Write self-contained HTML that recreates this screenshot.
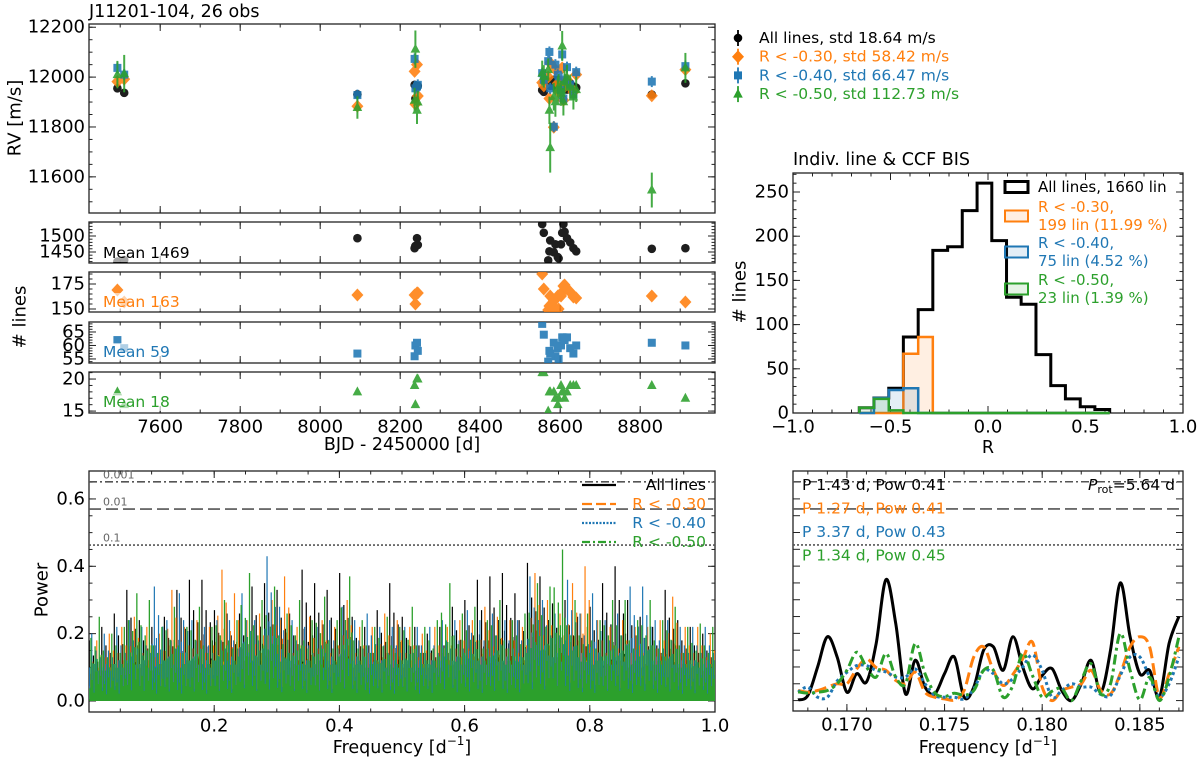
<!DOCTYPE html>
<html><head><meta charset="utf-8"><style>
html,body{margin:0;padding:0;background:#fff;}
svg{display:block;font-family:"DejaVu Sans","Liberation Sans",sans-serif;}
</style></head><body>
<svg id="fig" width="1200" height="762" viewBox="0 0 1200 762" xmlns="http://www.w3.org/2000/svg"></svg>
<script>
// ---------------- DATA ----------------
const epochs = [7493,7510,8093,8236,8238,8242,8244,8555,8559,8570,8573,8575,8584,8588,8594,8596,8602,8605,8608,8611,8617,8625,8633,8640,8829,8913];
const rvAll = [11955,11937,11931,11969,11914,11959,11965,11948,11941,11982,11975,11965,11989,11959,11989,11982,11965,11959,11970,11960,11950,11975,11962,11958,11930,11975];
const rvR30 = [11982,11992,11883,12023,11891,12050,11924,11978,11965,12000,11914,12057,11799,12030,11975,11941,11982,12037,11907,11962,11990,11960,11940,12010,11925,12030];
const rvR40 = [12037,12010,11928,12073,11955,11962,11969,12016,11989,12064,12101,11955,11801,12050,12010,12003,11948,12091,11914,11990,12040,11970,11930,12020,11982,12044];
const rvR50 = [12010,12014,11878,11907,12112,11867,11900,12016,12003,12030,11867,11717,11921,11901,11948,11962,11935,12125,11901,11980,12000,11960,11920,11950,11547,12037];
const errAll = [8,8,8,8,8,8,8,8,8,8,8,8,8,8,8,8,8,8,8,8,8,8,8,8,8,8];
const errR30 = [15,15,15,15,15,15,15,15,15,15,15,15,15,15,15,15,15,15,15,15,15,15,15,15,15,15];
const errR40 = [22,22,22,22,22,22,22,22,22,22,22,22,22,22,22,22,22,22,22,22,22,22,22,22,22,22];
const errR50 = [55,75,45,50,75,55,45,50,45,45,55,100,55,60,55,50,50,60,55,50,50,50,50,50,70,60];
const nAll = [1420,1425,1493,1462,1469,1493,1472,1537,1510,1424,1452,1486,1449,1474,1434,1430,1474,1510,1537,1513,1493,1480,1462,1452,1460,1462];
const nR30 = [169,157,164,164,155,166,166,185,170,149,153,163,158,150,163,150,163,167,173,174,170,167,162,161,163,157];
const nR40 = [62,59,57,56,60,61,58,68,64,54,58,57,61,56,59,55,60,63,63,62,63,59,57,60,61,60];
const nR50 = [18,16,18,19,16,20,20,21,21,15,18,18,18,17,16,17,19,18,18,17,18,19,19,19,19,17];
const meanLabels = ["Mean 1469","Mean 163","Mean 59","Mean 18"];
const legendRV = ["All lines, std 18.64 m/s","R < -0.30, std 58.42 m/s","R < -0.40, std 66.47 m/s","R < -0.50, std 112.73 m/s"];

const binEdges = [-0.660,-0.585,-0.509,-0.434,-0.358,-0.283,-0.207,-0.132,-0.056,0.0195,0.095,0.170,0.246,0.322,0.397,0.473,0.548,0.624];
const histAll = [6,17,28,86,117,184,188,229,260,195,131,123,66,31,16,7,4];
const histR30 = [0,0,0,67,86,0,0,0,0,0,0,0,0,0,0,0,0];
const histR40 = [0,17,26,28,0,0,0,0,0,0,0,0,0,0,0,0,0];
const histR50 = [6,16,3,0,0,0,0,0,0,0,0,0,0,0,0,0,0];

// left periodogram: peak power per 0.02 d^-1 bin
const pgBinWidth = 0.02;
const pgAll = [0.18,0.22,0.26,0.33,0.24,0.22,0.25,0.33,0.36,0.36,0.27,0.26,0.26,0.34,0.35,0.33,0.26,0.39,0.35,0.33,0.38,0.25,0.22,0.27,0.35,0.25,0.22,0.20,0.22,0.28,0.30,0.36,0.37,0.38,0.32,0.41,0.37,0.29,0.30,0.25,0.28,0.35,0.40,0.30,0.25,0.22,0.33,0.24,0.22,0.20];
const pgR30 = [0.18,0.20,0.22,0.25,0.22,0.20,0.33,0.22,0.24,0.22,0.39,0.32,0.24,0.26,0.30,0.37,0.22,0.25,0.24,0.22,0.30,0.22,0.22,0.26,0.24,0.22,0.20,0.22,0.22,0.24,0.24,0.28,0.25,0.24,0.22,0.38,0.30,0.26,0.35,0.40,0.24,0.22,0.24,0.22,0.22,0.24,0.31,0.22,0.22,0.20];
const pgR40 = [0.20,0.20,0.22,0.24,0.22,0.34,0.24,0.32,0.24,0.22,0.24,0.24,0.32,0.24,0.43,0.28,0.24,0.22,0.22,0.24,0.28,0.24,0.26,0.22,0.22,0.22,0.22,0.22,0.24,0.24,0.27,0.24,0.26,0.24,0.24,0.37,0.30,0.26,0.36,0.26,0.32,0.24,0.26,0.34,0.34,0.24,0.24,0.22,0.22,0.22];
const pgR50 = [0.25,0.20,0.22,0.32,0.30,0.22,0.28,0.22,0.28,0.22,0.30,0.24,0.38,0.30,0.34,0.26,0.30,0.24,0.31,0.24,0.37,0.24,0.22,0.25,0.22,0.28,0.22,0.24,0.35,0.26,0.28,0.24,0.30,0.24,0.26,0.35,0.34,0.45,0.30,0.26,0.24,0.30,0.30,0.24,0.30,0.24,0.28,0.22,0.23,0.22];
const fapLevels = [0.651,0.570,0.463];
const fapLabels = ["0.001","0.01","0.1"];

// right periodogram zoom
const zoomFreq = [];
const zoomStart = 0.1675, zoomStep = 0.0005;
const zAll = [0.002,0.015,0.10,0.19,0.13,0.025,0.08,0.055,0.17,0.36,0.23,0.02,0.12,0.04,0.02,0.08,0.13,0.01,0.04,0.15,0.16,0.09,0.19,0.10,0.035,0.075,0.095,0.03,0.0,0.05,0.12,0.025,0.15,0.35,0.19,0.08,0.09,0.01,0.17,0.25];
const zR30 = [0.03,0.025,0.03,0.04,0.05,0.05,0.094,0.124,0.098,0.09,0.06,0.05,0.084,0.025,0.01,0.005,0.002,0.03,0.13,0.16,0.09,0.045,0.078,0.124,0.174,0.04,0.0,0.03,0.04,0.05,0.09,0.03,0.02,0.08,0.16,0.19,0.16,0.01,0.08,0.16];
const zR40 = [0.025,0.04,0.01,0.01,0.058,0.084,0.104,0.104,0.09,0.085,0.07,0.07,0.094,0.05,0.015,0.01,0.01,0.005,0.035,0.09,0.08,0.05,0.065,0.1,0.136,0.09,0.01,0.03,0.05,0.04,0.04,0.018,0.015,0.075,0.13,0.13,0.07,0.012,0.05,0.13];
const zR50 = [0.026,0.022,0.025,0.03,0.05,0.09,0.144,0.1,0.07,0.14,0.07,0.05,0.17,0.08,0.023,0.012,0.022,0.016,0.03,0.09,0.09,0.01,0.045,0.14,0.075,0.01,0.028,0.036,0.0,0.06,0.11,0.02,0.05,0.2,0.09,0.002,0.07,0.0,0.07,0.19];
for (let i = 0; i < zAll.length; i++) zoomFreq.push(zoomStart + i * zoomStep);
const peakLabels = ["P 1.43 d, Pow 0.41","P 1.27 d, Pow 0.41","P 3.37 d, Pow 0.43","P 1.34 d, Pow 0.45"];

// ---------------- DRAWING ----------------
const NS = "http://www.w3.org/2000/svg";
const svg = document.getElementById("fig");
const C = ["#000000","#ff7f0e","#1f77b4","#2ca02c"];
function mk(tag, attrs, parent) {
  const e = document.createElementNS(NS, tag);
  for (const k in attrs) e.setAttribute(k, attrs[k]);
  (parent || svg).appendChild(e);
  return e;
}
function txt(s, x, y, size, fill, anchor, parent) {
  const t = mk("text", {x: x, y: y, "font-size": size, fill: fill || "#000", "text-anchor": anchor || "start", "dominant-baseline": "central"}, parent);
  t.textContent = s;
  return t;
}
function lin(d0, d1, r0, r1) { return v => r0 + (v - d0) * (r1 - r0) / (d1 - d0); }
function range(a, b, s) { const o = []; for (let v = a; v <= b + s * 1e-6; v += s) o.push(+v.toFixed(6)); return o; }

function axes(name, x0, x1, y0, y1, xd, yd, opt) {
  const g = mk("g", {});
  
  
  const sx = lin(xd[0], xd[1], x0, x1), sy = lin(yd[0], yd[1], y1, y0);
  const tk = mk("g", {stroke: "#222", "stroke-width": 1}, g);
  
  
  function tick(x, y, dx, dy) { mk("line", {x1: x, y1: y, x2: x + dx, y2: y + dy}, tk); }
  (opt.xmin || []).forEach(v => { const x = sx(v); if (x < x0 || x > x1) return; tick(x, y1, 0, -3.5); tick(x, y0, 0, 3.5); });
  (opt.xmaj || []).forEach(v => { const x = sx(v); if (x < x0 - .5 || x > x1 + .5) return; tick(x, y1, 0, -7); tick(x, y0, 0, 7); });
  (opt.ymin || []).forEach(v => { const y = sy(v); if (y < y0 || y > y1) return; tick(x0, y, 3.5, 0); tick(x1, y, -3.5, 0); });
  (opt.ymaj || []).forEach(v => { const y = sy(v); if (y < y0 - .5 || y > y1 + .5) return; tick(x0, y, 7, 0); tick(x1, y, -7, 0); });
  if (opt.xlab) opt.xlab.forEach(v => { const t = txt(opt.xfmt(v), sx(v), y1 + 14, 18, "#000", "middle", g);   });
  if (opt.ylab) opt.ylab.forEach(v => { const t = txt(opt.yfmt(v), x0 - 4, sy(v), 18, "#000", "end", g);   });
  const fr = mk("rect", {x: x0, y: y0, width: x1 - x0, height: y1 - y0, fill: "none", stroke: "#222", "stroke-width": 1.3}, g);
  
  
  return {sx, sy, g, x0, x1, y0, y1};
}
function clip(id, a) {
  const d = mk("defs", {});
  const cp = mk("clipPath", {id: id}, d);
  mk("rect", {x: a.x0, y: a.y0, width: a.x1 - a.x0, height: a.y1 - a.y0}, cp);
}
function marker(kind, x, y, col, parent) {
  let m;
  if (kind === 0) m = mk("circle", {cx: x, cy: y, r: 4.3, fill: col}, parent);
  else if (kind === 1) m = mk("polygon", {points: `${x},${y-6.5} ${x+6},${y} ${x},${y+6.5} ${x-6},${y}`, fill: col}, parent);
  else if (kind === 2) m = mk("rect", {x: x - 4, y: y - 4, width: 8, height: 8, fill: col}, parent);
  else m = mk("polygon", {points: `${x},${y-5.5} ${x+4.8},${y+3.5} ${x-4.8},${y+3.5}`, fill: col}, parent);
  return m;
}

// title
const ttl = txt("J11201-104, 26 obs", 89, 12, 17.5);



// ---- RV panel ----
const fmt0 = v => String(Math.round(v));
const rv = axes("rv-panel", 89, 715, 24, 213, [7422, 8987], [11455, 12213],
  {xmaj: range(7600, 8800, 200), xmin: range(7500, 8900, 100), ymaj: range(11600, 12200, 200), ymin: range(11500, 12200, 50),
   ylab: range(11600, 12200, 200), yfmt: fmt0});
clip("cRV", rv);
const rvSeries = [[rvAll, errAll], [rvR30, errR30], [rvR40, errR40], [rvR50, errR50]];
const rvNames = ["rv-all-lines", "rv-r-030", "rv-r-040", "rv-r-050"];
rvSeries.forEach((s, si) => {
  const g = mk("g", {"clip-path": "url(#cRV)", opacity: 0.88});
  
  
  epochs.forEach((d, i) => {
    const x = rv.sx(d), y = rv.sy(s[0][i]);
    const eb = mk("line", {x1: x, x2: x, y1: rv.sy(s[0][i] + s[1][i]), y2: rv.sy(s[0][i] - s[1][i]), stroke: C[si], "stroke-width": 2}, g);
    
    
    const m = marker(si, x, y, C[si], g);
    
    
  });
});
// RV legend
legendRV.forEach((s, i) => {
  const y = 38 + i * 18.7;
  const g = mk("g", {});
  
  
  mk("line", {x1: 738, x2: 738, y1: y - 8, y2: y + 8, stroke: C[i], "stroke-width": 1.8}, g);
  marker(i, 738, y, C[i], g);
  txt(s, 759, y, 15.5, C[i], "start", g);
});
const rvy = txt("RV [m/s]", 0, 0, 18);
rvy.setAttribute("transform", "translate(15,118) rotate(-90)");
rvy.setAttribute("text-anchor", "middle");



// ---- number-of-lines panels ----
const subDefs = [
  {n: nAll, y0: 222, y1: 263, yd: [1415.6, 1543.7], maj: [1450, 1500], min: range(1420, 1540, 10), my: 253},
  {n: nR30, y0: 272, y1: 312, yd: [147, 187], maj: [150, 175], min: range(150, 185, 5), my: 302},
  {n: nR40, y0: 322, y1: 363, yd: [53.5, 68.7], maj: [55, 60, 65], min: range(54, 68, 1), my: 352},
  {n: nR50, y0: 372, y1: 413, yd: [14.7, 21.1], maj: [15, 20], min: range(15, 21, 1), my: 402}
];
const subNames = ["nlines-all", "nlines-r-030", "nlines-r-040", "nlines-r-050"];
subDefs.forEach((d, si) => {
  const last = si === 3;
  const a = axes(subNames[si] + "-panel", 89, 715, d.y0, d.y1, [7422, 8987], d.yd,
    {xmaj: range(7600, 8800, 200), xmin: range(7500, 8900, 100), ymaj: d.maj, ymin: d.min, ylab: d.maj, yfmt: fmt0,
     xlab: last ? range(7600, 8800, 200) : null, xfmt: fmt0});
  clip("cS" + si, a);
  const g = mk("g", {"clip-path": "url(#cS" + si + ")", opacity: 0.88});
  
  
  epochs.forEach((e, i) => {
    const m = marker(si, a.sx(e), a.sy(d.n[i]), C[si], g);
    
    
  });
  const bg = mk("rect", {x: 100, y: d.my - 9, width: si === 0 ? 88 : 78, height: 18, fill: "#fff", opacity: 0.6});
  
  
  const t = txt(meanLabels[si], 103, d.my, 15.5, C[si]);
  
  
});
const nly = txt("# lines", 0, 0, 18);
nly.setAttribute("transform", "translate(20,317) rotate(-90)");
nly.setAttribute("text-anchor", "middle");


const bjd = txt("BJD - 2450000 [d]", 402, 445, 17.5, "#000", "middle");



// ---- histogram ----
const fmt1 = v => v.toFixed(1).replace("-", "\u2212");
const hi = axes("histogram-panel", 793, 1183, 173, 413, [-1, 1], [0, 271.5],
  {xmaj: range(-1, 1, 0.5), xmin: range(-1, 1, 0.1), ymaj: range(0, 250, 50), ymin: range(0, 270, 10),
   xlab: range(-1, 1, 0.5), xfmt: fmt1, ylab: range(0, 250, 50), yfmt: fmt0});
function stepPath(a, counts) {
  let d = `M${a.sx(binEdges[0])},${a.sy(0)}`;
  counts.forEach((c, i) => { d += ` L${a.sx(binEdges[i])},${a.sy(c)} L${a.sx(binEdges[i + 1])},${a.sy(c)}`; });
  d += ` L${a.sx(binEdges[binEdges.length - 1])},${a.sy(0)}`;
  return d;
}
const histSets = [histAll, histR30, histR40, histR50];
const histNames = ["hist-all-lines", "hist-r-030", "hist-r-040", "hist-r-050"];
const fills = ["none", "rgba(255,127,14,0.12)", "rgba(31,119,180,0.12)", "rgba(44,160,44,0.12)"];
histSets.forEach((h, i) => {
  const p = mk("path", {d: stepPath(hi, h), fill: fills[i], stroke: C[i], "stroke-width": i === 0 ? 3 : 2.5, "stroke-linejoin": "miter"});
  
  
});
const hleg = [["All lines, 1660 lin"], ["R < -0.30,", "199 lin (11.99 %)"], ["R < -0.40,", "75 lin (4.52 %)"], ["R < -0.50,", "23 lin (1.39 %)"]];
const hlegY = [187, 216, 252, 289];
hleg.forEach((L, i) => {
  const g = mk("g", {});
  
  
  mk("rect", {x: 1005, y: hlegY[i] - 5.5, width: 23, height: 11, fill: i ? fills[i] : "#fff", stroke: C[i], "stroke-width": i ? 2 : 3}, g);
  if (L.length === 1) txt(L[0], 1038, hlegY[i], 15, C[i], "start", g);
  else { txt(L[0], 1038, hlegY[i] - 9, 15, C[i], "start", g); txt(L[1], 1038, hlegY[i] + 9, 15, C[i], "start", g); }
});
const ht = txt("Indiv. line & CCF BIS", 793, 160, 17.5);


const hx = txt("R", 988, 448, 17.5, "#000", "middle");


const hy = txt("# lines", 0, 0, 18);
hy.setAttribute("transform", "translate(740,292) rotate(-90)");
hy.setAttribute("text-anchor", "middle");



// ---- left periodogram ----
const pl = axes("periodogram-panel", 89, 715, 471, 712, [0, 1], [-0.0327, 0.683],
  {xmaj: range(0, 1, 0.2), xmin: range(0, 1, 0.05), ymaj: range(0, 0.6, 0.2), ymin: range(0, 0.65, 0.05),
   xlab: [0.2, 0.4, 0.6, 0.8, 1.0], xfmt: v => v.toFixed(1), ylab: range(0, 0.6, 0.2), yfmt: v => v.toFixed(1)});
clip("cPL", pl);
const spikePattern = [1, .3, .55, .15, .75, .25, .45, .1, .65, .35, .5, .2];
const pgSets = [pgAll, pgR30, pgR40, pgR50];
const pgNames = ["periodogram-all-lines", "periodogram-r-030", "periodogram-r-040", "periodogram-r-050"];
const NSP = 12;
pgSets.forEach((arr, si) => {
  let d = "";
  arr.forEach((pk, b) => {
    for (let k = 0; k < NSP; k++) {
      const f = b * pgBinWidth + (k + 0.25 + si * 0.2) * pgBinWidth / NSP;
      const h = pk * spikePattern[(k + si * 5) % NSP];
      const lo = si === 3 ? 0 : 0.005;
      d += `M${pl.sx(f).toFixed(2)},${pl.sy(lo)}V${pl.sy(h).toFixed(2)}`;
    }
  });
  const p = mk("path", {d: d, stroke: C[si], "stroke-width": si === 3 ? 1.3 : 1.2, fill: "none", "clip-path": "url(#cPL)"});
  
  
});
const fapDash = ["8,3,2,3", "12,5", "2,2"];
function drawFap(a, withLabels) {
  fapLevels.forEach((lv, i) => {
    const l = mk("line", {x1: a.x0, x2: a.x1, y1: a.sy(lv), y2: a.sy(lv), stroke: "#555", "stroke-width": 1.6, "stroke-dasharray": fapDash[i]});
    
    
    if (withLabels) {
      const t = txt(fapLabels[i], 103, a.sy(lv) - 7, 11, "#666");
      
      
    }
  });
}
drawFap(pl, true);
const plLeg = ["All lines", "R < -0.30", "R < -0.40", "R < -0.50"];
const lineDash = ["none", "10,4", "2,1.5", "8,3,2,3"];
plLeg.forEach((s, i) => {
  const y = 485 + i * 19;
  const g = mk("g", {});
  
  
  mk("line", {x1: 582, x2: 616, y1: y, y2: y, stroke: C[i], "stroke-width": 2.2, "stroke-dasharray": lineDash[i]}, g);
  txt(s, 706, y, 15.5, C[i], "end", g);
});
const pw = txt("Power", 0, 0, 18);
pw.setAttribute("transform", "translate(42,590) rotate(-90)");
pw.setAttribute("text-anchor", "middle");


function freqTitle(x, name) {
  const t = mk("text", {x: x, y: 748, "font-size": 17.5, "text-anchor": "middle", "dominant-baseline": "central"});
  
  
  t.textContent = "Frequency [d";
  const s = mk("tspan", {dy: -7, "font-size": 12}, t); s.textContent = "\u22121";
  const e = mk("tspan", {dy: 7}, t); e.textContent = "]";
}
freqTitle(402, "periodogram-x-axis-title");

// ---- right zoomed periodogram ----
const pr = axes("zoom-periodogram-panel", 793, 1183, 471, 711, [0.16724, 0.18721], [-0.031, 0.683],
  {xmaj: range(0.170, 0.185, 0.005), xmin: range(0.168, 0.187, 0.001), ymaj: range(0, 0.65, 0.05),
   xlab: range(0.170, 0.185, 0.005), xfmt: v => v.toFixed(3)});
clip("cPR", pr);
drawFap(pr, false);
function smooth(xs, ys) {
  let d = `M${xs[0]},${ys[0]}`;
  for (let i = 0; i < xs.length - 1; i++) {
    const x0 = xs[Math.max(i - 1, 0)], y0 = ys[Math.max(i - 1, 0)];
    const x3 = xs[Math.min(i + 2, xs.length - 1)], y3 = ys[Math.min(i + 2, xs.length - 1)];
    const c1x = xs[i] + (xs[i + 1] - x0) / 6, c1y = ys[i] + (ys[i + 1] - y0) / 6;
    const c2x = xs[i + 1] - (x3 - xs[i]) / 6, c2y = ys[i + 1] - (y3 - ys[i]) / 6;
    d += ` C${c1x.toFixed(1)},${c1y.toFixed(1)} ${c2x.toFixed(1)},${c2y.toFixed(1)} ${xs[i + 1].toFixed(1)},${ys[i + 1].toFixed(1)}`;
  }
  return d;
}
const zSets = [zAll, zR30, zR40, zR50];
const zNames = ["zoom-all-lines", "zoom-r-030", "zoom-r-040", "zoom-r-050"];
const zDash = ["none", "12,5", "3,3", "10,4,3,4"];
[0, 1, 2, 3].forEach(si => {
  const xs = zoomFreq.map(f => pr.sx(f)), ys = zSets[si].map(p => pr.sy(p));
  const p = mk("path", {d: smooth(xs, ys), fill: "none", stroke: C[si], "stroke-width": 3, "stroke-dasharray": zDash[si], "clip-path": "url(#cPR)"});
  
  
});
peakLabels.forEach((s, i) => {
  const t = txt(s, 802, 485 + i * 23.5, 15.5, C[i]);
  
  
});
const prot = mk("text", {x: 1175, y: 485, "font-size": 15.5, "text-anchor": "end", "dominant-baseline": "central"});


const pi = mk("tspan", {"font-style": "italic"}, prot); pi.textContent = "P";
const ps = mk("tspan", {"font-size": 11, dy: 4}, prot); ps.textContent = "rot";
const pe = mk("tspan", {dy: -4}, prot); pe.textContent = "=5.64 d";
freqTitle(988, "zoom-periodogram-x-axis-title");
</script>
</body></html>
